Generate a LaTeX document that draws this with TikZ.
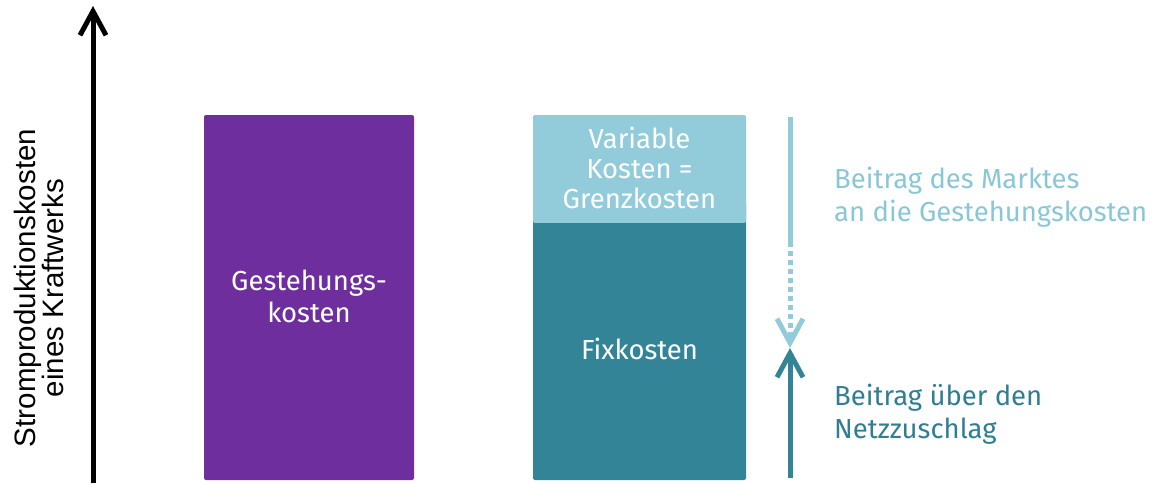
\documentclass[tikz,border=0pt]{standalone}
\usepackage{fontspec}
\setmainfont{Fira Sans}
\newfontfamily\axisfont{Liberation Sans}
\usetikzlibrary{arrows.meta}
\definecolor{gkpurple}{RGB}{111,46,158}
\definecolor{varteal}{RGB}{146,203,218}
\definecolor{fixteal}{RGB}{52,132,152}
\definecolor{lighttext}{RGB}{138,199,214}
\definecolor{darktext}{RGB}{47,126,146}
\tikzset{
  x=1pt, y=-1pt,
  costbox/.style={draw=none, inner sep=0pt,
    text=white, align=center, font=\fontsize{27.5}{31}\selectfont},
  barb/.style={-{Straight Barb[length=24pt,width=26pt]}, line width=5pt},
  note/.style={anchor=north west, align=left, inner sep=0pt, font=\fontsize{27.5}{32.5}\selectfont}
}
\begin{document}
\begin{tikzpicture}
\useasboundingbox (0,0) rectangle (1153,483);

% vertical axis
\coordinate (axisbottom) at (93,483);
\coordinate (axistop) at (93,6);
\draw[barb, black] (axisbottom) -- (axistop);
\node[rotate=90, align=center, inner sep=0pt, font=\axisfont\fontsize{29.5}{28}\selectfont]
  (axislabel) at (39,288) {Stromproduktionskosten\\eines Kraftwerks};

% cost bars
\fill[gkpurple, rounded corners=2pt] (204,115) rectangle (414,480);
\node[costbox, font=\fontsize{27.5}{32}\selectfont] (gk) at (309,296) {Gestehungs-\\kosten};

\fill[fixteal, rounded corners=2pt] (533,200) rectangle (746,480);
\fill[varteal, rounded corners=2pt] (533,115) rectangle (746,223);
\fill[fixteal] (533,223) rectangle (746,240);
\node[costbox, font=\fontsize{27.5}{30}\selectfont] (var) at (639.5,168) {Variable\\Kosten =\\Grenzkosten};
\node[costbox] (fix) at (639.5,349) {Fixkosten};

% contributions
\coordinate (mtop) at (790,117);
\coordinate (mmid) at (790,242);
\coordinate (meet) at (790,348);
\coordinate (nbottom) at (790,478);
\draw[varteal, line width=5pt] (mtop) -- (mmid);
\draw[barb, varteal, dash pattern=on 5pt off 4pt] (mmid) -- (meet);
\draw[barb, fixteal] (nbottom) -- (meet);

\node[note, text=lighttext] (markt) at (834,167) {Beitrag des Marktes\\an die Gestehungskosten};
\node[note, text=darktext] (netz) at (834,384) {Beitrag über den\\Netzzuschlag};
\end{tikzpicture}
\end{document}
